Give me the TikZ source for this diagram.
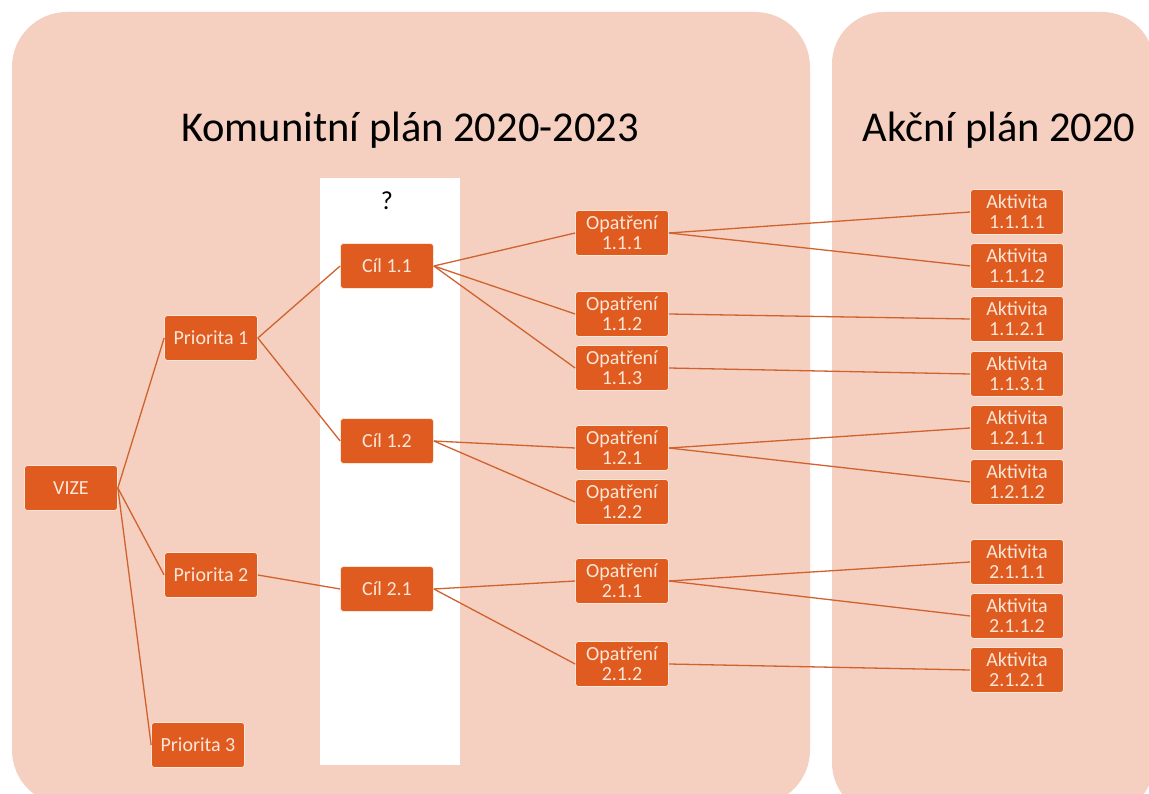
\documentclass[tikz,border=0pt]{standalone}
\usepackage{fontspec}
\setmainfont{Carlito}
\usetikzlibrary{positioning}
\definecolor{panelbg}{HTML}{F5CFC0}
\definecolor{boxfill}{HTML}{DF5B20}
\definecolor{boxtext}{HTML}{FCE6D8}
\definecolor{linkcol}{HTML}{D0622E}

\begin{document}
\begin{tikzpicture}[x=1pt,y=-1pt,
    item/.style={draw=boxtext,line width=0.7pt,fill=boxfill,rounded corners=3pt,
        text=boxtext,font=\fontsize{20}{20}\selectfont,align=center,
        minimum width=93pt,minimum height=45pt,inner sep=0pt},
    link/.style={draw=linkcol,line width=1.3pt},
    title/.style={font=\fontsize{42.5}{44}\selectfont,text=black}]
                \useasboundingbox[fill=white] (0,0) rectangle (1149,794);
                \fill[panelbg,rounded corners=55pt] (12,12) rectangle (810,805);
                \fill[panelbg,rounded corners=52pt] (832,12) rectangle (1154,815);
                \fill[white] (320,178) rectangle (460,765);

                \node[title] (tkp) at (410,130) {Komunitní plán 2020-2023};
                \node[title] (tap) at (999,130) {Akční plán 2020};
                \node[font=\fontsize{26}{28}\selectfont] (q) at (387,201) {?};

                \node[item] (vize) at (71,488) {VIZE};
                \node[item] (p1) at (211,338) {Priorita 1};
                \node[item] (p2) at (211,575) {Priorita 2};
                \node[item] (p3) at (198,745) {Priorita 3};

                \node[item] (c11) at (387,266) {Cíl 1.1};
                \node[item] (c12) at (387,441) {Cíl 1.2};
                \node[item] (c21) at (387,589) {Cíl 2.1};

                \node[item] (o111) at (622,233) {Opatření\\1.1.1};
                \node[item] (o112) at (622,314) {Opatření\\1.1.2};
                \node[item] (o113) at (622,368) {Opatření\\1.1.3};
                \node[item] (o121) at (622,448) {Opatření\\1.2.1};
                \node[item] (o122) at (622,502) {Opatření\\1.2.2};
                \node[item] (o211) at (622,581) {Opatření\\2.1.1};
                \node[item] (o212) at (622,664) {Opatření\\2.1.2};

                \node[item] (a1111) at (1017,212) {Aktivita\\1.1.1.1};
                \node[item] (a1112) at (1017,266) {Aktivita\\1.1.1.2};
                \node[item] (a1121) at (1017,319) {Aktivita\\1.1.2.1};
                \node[item] (a1131) at (1017,374) {Aktivita\\1.1.3.1};
                \node[item] (a1211) at (1017,428) {Aktivita\\1.2.1.1};
                \node[item] (a1212) at (1017,482) {Aktivita\\1.2.1.2};
                \node[item] (a2111) at (1017,562) {Aktivita\\2.1.1.1};
                \node[item] (a2112) at (1017,616) {Aktivita\\2.1.1.2};
                \node[item] (a2121) at (1017,670) {Aktivita\\2.1.2.1};

                \draw[link] (vize.east) -- (p1.west);
                \draw[link] (vize.east) -- (p2.west);
                \draw[link] (vize.east) -- (p3.west);
                \draw[link] (p1.east) -- (c11.west);
                \draw[link] (p1.east) -- (c12.west);
                \draw[link] (p2.east) -- (c21.west);
                \draw[link] (c11.east) -- (o111.west);
                \draw[link] (c11.east) -- (o112.west);
                \draw[link] (c11.east) -- (o113.west);
                \draw[link] (c12.east) -- (o121.west);
                \draw[link] (c12.east) -- (o122.west);
                \draw[link] (c21.east) -- (o211.west);
                \draw[link] (c21.east) -- (o212.west);
                \draw[link] (o111.east) -- (a1111.west);
                \draw[link] (o111.east) -- (a1112.west);
                \draw[link] (o112.east) -- (a1121.west);
                \draw[link] (o113.east) -- (a1131.west);
                \draw[link] (o121.east) -- (a1211.west);
                \draw[link] (o121.east) -- (a1212.west);
                \draw[link] (o211.east) -- (a2111.west);
                \draw[link] (o211.east) -- (a2112.west);
                \draw[link] (o212.east) -- (a2121.west);
            \end{tikzpicture}
\end{document}
